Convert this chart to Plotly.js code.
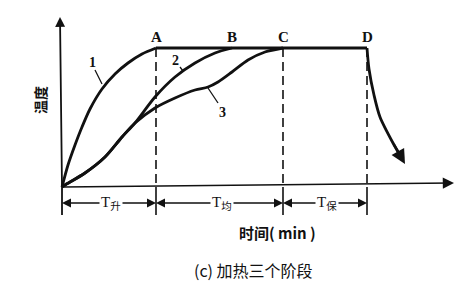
<!DOCTYPE html>
<html>
<head>
<meta charset="utf-8">
<script src="https://cdn.plot.ly/plotly-3.0.1.min.js"></script>
<style>
  html, body { margin: 0; padding: 0; background: #fff; }
  #chart { width: 475px; height: 283px; }
</style>
</head>
<body>
<div id="chart"></div>
<script>
// Stage boundaries on the time axis (arbitrary units) and the soak temperature
const stageNames = ['A', 'B', 'C', 'D'];
const stageTimes = [94, 170, 221, 305];
const soakTemp = 139;

// Heating curves 1, 2, 3 (time, temperature)
const curve1Time = [0, 6, 13, 20, 28, 40, 53, 66, 80, 94];
const curve1Temp = [0, 22, 42, 60, 78, 98, 113, 124, 133, 139];

const curve2Time = [0, 3, 23, 43, 60, 73, 93, 113, 133, 153, 170];
const curve2Temp = [0, 2, 14, 30, 50, 64, 90, 110, 124, 134, 139];

const curve3Time = [0, 3, 23, 43, 60, 73, 93, 113, 133, 146, 156, 170, 186, 203, 221];
const curve3Temp = [0, 2, 14, 30, 50, 64, 79, 89, 97, 100, 105, 115, 127, 135, 139];

// Holding plateau A→D and the cooling drop after D
const holdTime = [94, 305];
const holdTemp = [139, 139];
const coolTime = [305, 307, 312, 318, 331, 341];
const coolTemp = [139, 118, 92, 70, 44, 27];

// Stage names below the axis
const stageLabels = ['T<sub>升</sub>', 'T<sub>均</sub>', 'T<sub>保</sub>'];
const curveLabels = ['1', '2', '3'];
const yTitle = '温度';
const xTitle = '时间( min )';
const caption = '(c) 加热三个阶段';

const ink = '#111';
const lineW = 2.8;

function curve(x, y) {
  return { x: x, y: y, mode: 'lines', hoverinfo: 'skip',
           line: { color: ink, width: lineW, shape: 'spline', smoothing: 0.8 } };
}

const traces = [
  curve(curve1Time, curve1Temp),
  curve(curve2Time, curve2Temp),
  curve(curve3Time, curve3Temp),
  { x: holdTime, y: holdTemp, mode: 'lines', hoverinfo: 'skip',
    line: { color: ink, width: lineW } },
  curve(coolTime, coolTemp)
];

const shapes = [];
// Dashed guides at A, C, D down to the axis, solid ticks below it
[stageTimes[0], stageTimes[2], stageTimes[3]].forEach(t => {
  shapes.push({ type: 'line', x0: t, x1: t, y0: soakTemp, y1: 0,
                line: { color: ink, width: 1.6, dash: '9px,5px' } });
  shapes.push({ type: 'line', x0: t, x1: t, y0: 0, y1: -28,
                line: { color: ink, width: 1.6 } });
});
// Y axis stub below the origin
shapes.push({ type: 'line', x0: 0, x1: 0, y0: 0, y1: -28, line: { color: ink, width: 1.8 } });

const annotations = [];
function arrow(x, y, ax, ay, w, size) {
  annotations.push({ x: x, y: y, ax: ax, ay: ay, xref: 'x', yref: 'y', axref: 'x', ayref: 'y',
                     text: '', showarrow: true, arrowhead: 2, arrowsize: size || 1,
                     arrowwidth: w, arrowcolor: ink });
}
// Axes with arrow heads
arrow(392, 4, 0, 0, 1.6, 1.4);
arrow(-2, 170, 0, 0, 1.8, 1.1);
// Cooling arrow head
arrow(coolTime[coolTime.length - 1] + 2, coolTemp[coolTemp.length - 1] - 4,
      coolTime[coolTime.length - 2], coolTemp[coolTemp.length - 2], 2.4, 1.2);

// Dimension arrows for the three stages
const bounds = [0, stageTimes[0], stageTimes[2], stageTimes[3]];
const dimY = -16;
for (let i = 0; i < 3; i++) {
  const a = bounds[i], b = bounds[i + 1], m = (a + b) / 2;
  arrow(a, dimY, m, dimY, 1.5, 1.2);
  arrow(b, dimY, m, dimY, 1.5, 1.2);
  annotations.push({ x: m + 2, y: dimY, xref: 'x', yref: 'y', text: stageLabels[i],
                     showarrow: false, bgcolor: '#fff', borderpad: 1,
                     font: { family: 'Liberation Serif, Noto Sans CJK SC', size: 15, color: ink } });
}

// Point letters
stageNames.forEach((n, i) => {
  annotations.push({ x: stageTimes[i], y: soakTemp + 11, xref: 'x', yref: 'y', text: '<b>' + n + '</b>',
                     showarrow: false, font: { family: 'Liberation Serif', size: 15, color: ink } });
});

// Curve numbers with leader lines
const curveLabelPos = [[30, 125], [113, 127], [160, 75]];
const leaderEnds = [[[33, 117], [40, 103]], [[118, 120], [121, 116]], [[146, 99], [156, 84]]];
curveLabels.forEach((c, i) => {
  annotations.push({ x: curveLabelPos[i][0], y: curveLabelPos[i][1], xref: 'x', yref: 'y',
                     text: '<b>' + c + '</b>', showarrow: false,
                     font: { family: 'Liberation Serif', size: 14, color: ink } });
  shapes.push({ type: 'line', x0: leaderEnds[i][0][0], y0: leaderEnds[i][0][1],
                x1: leaderEnds[i][1][0], y1: leaderEnds[i][1][1], line: { color: ink, width: 1.3 } });
});

// Axis titles and caption
annotations.push({ x: -22, y: 87, xref: 'x', yref: 'y', text: '<b>' + yTitle + '</b>', textangle: -90,
                   showarrow: false, font: { family: 'Noto Sans CJK SC', size: 14, color: ink } });
annotations.push({ x: 215, y: -45, xref: 'x', yref: 'y', text: '<b>' + xTitle + '</b>',
                   showarrow: false, font: { family: 'Noto Sans CJK SC, Liberation Serif', size: 15, color: ink } });
annotations.push({ x: 191, y: -83, xref: 'x', yref: 'y', text: caption,
                   showarrow: false, font: { family: 'Noto Sans CJK SC', size: 16, color: ink } });

const hidden = { showgrid: false, zeroline: false, showticklabels: false, showline: false, ticks: '', fixedrange: true };

const layout = {
  width: 475, height: 283,
  margin: { l: 0, r: 0, t: 0, b: 0 },
  paper_bgcolor: '#fff', plot_bgcolor: '#fff',
  showlegend: false,
  xaxis: Object.assign({ range: [-62, 413] }, hidden),
  yaxis: Object.assign({ range: [-96, 187] }, hidden),
  shapes: shapes,
  annotations: annotations
};

Plotly.newPlot('chart', traces, layout, { staticPlot: true, displayModeBar: false });
</script>
</body>
</html>
